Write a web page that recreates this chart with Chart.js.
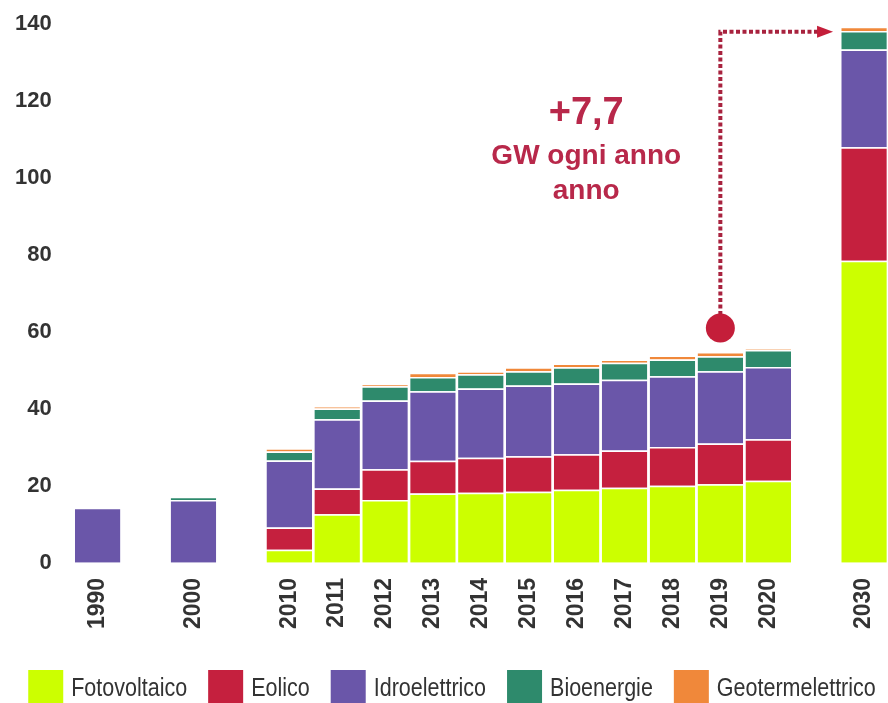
<!DOCTYPE html>
<html>
<head>
<meta charset="utf-8">
<script src="https://cdn.jsdelivr.net/npm/chart.js@4"></script>
<style>
  html, body { margin: 0; padding: 0; background: #fff; }
  #wrap { width: 888px; height: 703px; }
</style>
</head>
<body>
<div id="wrap"><canvas id="myChart"></canvas></div>
<script>
// slots with '' are empty gaps on the axis
let anni = ['1990', '', '2000', '', '2010', '2011', '2012', '2013', '2014', '2015', '2016', '2017', '2018', '2019', '2020', '', '2030'];
let fotovoltaico = [null, null, null, null, 3.4, 12.6, 16.3, 18.0, 18.2, 18.5, 19.0, 19.5, 20.0, 20.4, 21.3, null, 78.5];
let eolico = [null, null, null, null, 5.8, 6.7, 8.0, 8.5, 9.1, 9.2, 9.2, 9.7, 10.1, 10.6, 10.8, null, 29.5];
let idroelettrico = [14.3, null, 16.3, null, 17.4, 18.0, 17.9, 18.1, 18.0, 18.4, 18.4, 18.4, 18.4, 18.8, 18.8, null, 25.4];
let bioenergie = [null, null, 0.9, null, 2.3, 2.8, 3.7, 3.7, 3.7, 3.7, 4.2, 4.4, 4.3, 3.9, 4.4, null, 4.8];
let geotermelettrico = [null, null, null, null, 0.9, 0.5, 0.5, 1.1, 0.8, 1.0, 1.0, 0.8, 1.1, 1.1, 0.2, null, 1.1];
let yTicks = [0, 20, 40, 60, 80, 100, 120, 140];

let nota = ['+7,7', 'GW ogni anno', 'anno'];
let puntoAnno = '2019', puntoValore = 61, frecciaValore = 138;

var rosso = '#b8284a';

function serie(label, data, color) {
  return {
    label: label,
    data: data,
    backgroundColor: color,
    borderColor: '#ffffff',
    borderWidth: {top: 1.5, right: 0, bottom: 0, left: 0},
    borderSkipped: 'start',
    barPercentage: 1,
    categoryPercentage: 0.95
  };
}

// dotted arrow, dot and the red note
var annotazione = {
  id: 'annotazione',
  afterDatasetsDraw(chart) {
    var ctx = chart.ctx;
    var xs = chart.scales.x, ys = chart.scales.y;
    var px = xs.getPixelForValue(anni.indexOf(puntoAnno));
    var py = ys.getPixelForValue(puntoValore);
    var topY = ys.getPixelForValue(frecciaValore);
    var tip = xs.getPixelForValue(anni.length - 1) - 31;
    ctx.save();
    ctx.strokeStyle = '#a8223e';
    ctx.lineWidth = 4;
    ctx.setLineDash([4, 2.5]);
    ctx.beginPath();
    ctx.moveTo(px, py);
    ctx.lineTo(px, topY);
    ctx.lineTo(tip - 14, topY);
    ctx.stroke();
    ctx.setLineDash([]);
    ctx.fillStyle = '#c41e3a';
    ctx.beginPath();
    ctx.moveTo(tip, topY);
    ctx.lineTo(tip - 16, topY - 6);
    ctx.lineTo(tip - 16, topY + 6);
    ctx.closePath();
    ctx.fill();
    ctx.beginPath();
    ctx.arc(px, py, 14.5, 0, Math.PI * 2);
    ctx.fill();

    var tx = xs.getPixelForValue(10.2);
    ctx.fillStyle = rosso;
    ctx.textAlign = 'center';
    ctx.textBaseline = 'alphabetic';
    ctx.font = 'bold 38px "Liberation Sans", Arial, sans-serif';
    ctx.fillText(nota[0], tx, ys.getPixelForValue(114));
    ctx.font = 'bold 28px "Liberation Sans", Arial, sans-serif';
    ctx.fillText(nota[1], tx, ys.getPixelForValue(103.5));
    ctx.fillText(nota[2], tx, ys.getPixelForValue(94.5));
    ctx.restore();
  }
};

// legend drawn by hand so the narrow lettering fits on one row
var legenda = {
  id: 'legenda',
  afterDraw(chart) {
    var ctx = chart.ctx;
    var sets = chart.data.datasets;
    var sx = 0.86, box = 35, gap = 8, spacing = 21;
    ctx.save();
    ctx.font = '25px "Liberation Sans", Arial, sans-serif';
    var widths = sets.map(function (d) { return ctx.measureText(d.label).width * sx; });
    var total = 0;
    widths.forEach(function (w) { total += box + gap + w; });
    total += spacing * (sets.length - 1);
    var x = (chart.width - total) / 2 + 8;
    var top = chart.height - 33, mid = chart.height - 14;
    sets.forEach(function (d, i) {
      ctx.fillStyle = d.backgroundColor;
      ctx.fillRect(x, top, box, box);
      ctx.save();
      ctx.translate(x + box + gap, mid);
      ctx.scale(sx, 1);
      ctx.fillStyle = '#333333';
      ctx.textBaseline = 'middle';
      ctx.textAlign = 'left';
      ctx.fillText(d.label, 0, 0);
      ctx.restore();
      x += box + gap + widths[i] + spacing;
    });
    ctx.restore();
  }
};

var ctx = document.getElementById('myChart').getContext('2d');
var myChart = new Chart(ctx, {
  type: 'bar',
  data: {
    labels: anni,
    datasets: [
      serie('Fotovoltaico', fotovoltaico, '#ccff00'),
      serie('Eolico', eolico, '#c5203e'),
      serie('Idroelettrico', idroelettrico, '#6a56a9'),
      serie('Bioenergie', bioenergie, '#2e8a6c'),
      serie('Geotermelettrico', geotermelettrico, '#f0883a')
    ]
  },
  plugins: [annotazione, legenda],
  options: {
    responsive: true,
    maintainAspectRatio: false,
    animation: false,
    layout: {
      padding: {left: -7, right: 0, top: 24, bottom: 59}
    },
    plugins: {
      tooltip: {enabled: false},
      legend: {display: false}
    },
    scales: {
      x: {
        stacked: true,
        grid: {display: false, drawTicks: false},
        border: {display: false},
        afterFit: function (axis) {
          axis.paddingLeft = 0;
          axis.paddingRight = 0;
        },
        ticks: {
          autoSkip: false,
          minRotation: 90,
          maxRotation: 90,
          padding: 15,
          color: '#333333',
          font: {family: '"Liberation Sans", Arial, sans-serif', size: 23, weight: 'bold'}
        }
      },
      y: {
        stacked: true,
        min: 0,
        max: 140,
        afterBuildTicks: function (axis) {
          axis.ticks = yTicks.map(function (v) { return {value: v}; });
        },
        afterFit: function (axis) {
          axis.paddingTop = 0;
          axis.paddingBottom = 0;
        },
        grid: {display: false, drawTicks: false},
        border: {display: false},
        ticks: {
          padding: 22,
          color: '#333333',
          font: {family: '"Liberation Sans", Arial, sans-serif', size: 22, weight: 'bold'}
        }
      }
    }
  }
});
</script>
</body>
</html>
